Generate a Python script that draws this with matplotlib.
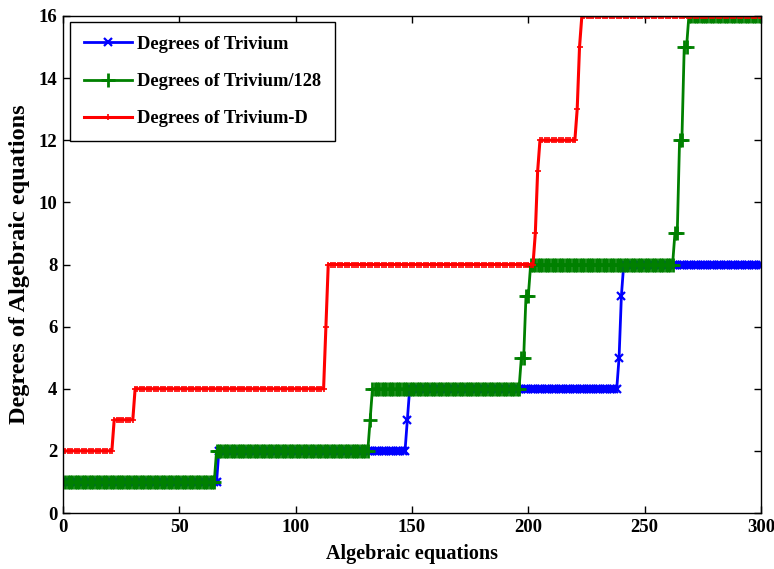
import numpy as np
import matplotlib
matplotlib.use("Agg")
import matplotlib.pyplot as plt

# Equation index (x) shared by all series
x_first, x_last = 1, 300

# Each series: degree levels and the last equation index of each level
trivium_levels = [1, 2, 3, 4, 5, 7, 8]
trivium_run_end = [66, 147, 148, 238, 239, 240, 300]

trivium128_levels = [1, 2, 3, 4, 5, 7, 8, 9, 12, 15, 16]
trivium128_run_end = [65, 131, 132, 196, 198, 200, 262, 264, 266, 268, 300]

triviumD_levels = [2, 3, 4, 6, 8, 9, 11, 12, 13, 15, 16]
triviumD_run_end = [21, 30, 112, 113, 202, 203, 204, 220, 221, 222, 300]

labels = ["Degrees of Trivium", "Degrees of Trivium/128", "Degrees of Trivium-D"]
x_ticks = [0, 50, 100, 150, 200, 250, 300]
y_ticks = [0, 2, 4, 6, 8, 10, 12, 14, 16]


def expand(levels, run_end):
    ends = np.asarray(run_end)
    starts = np.concatenate([[x_first], ends[:-1] + 1])
    counts = ends - starts + 1
    return np.repeat(levels, counts)


x = np.arange(x_first, x_last + 1)
y_triv = expand(trivium_levels, trivium_run_end)
y_t128 = expand(trivium128_levels, trivium128_run_end)
y_trivD = expand(triviumD_levels, triviumD_run_end)

plt.rcParams["font.family"] = ["Liberation Serif", "DejaVu Serif"]
plt.rcParams["font.weight"] = "bold"

fig = plt.figure(figsize=(7.74, 5.69), dpi=100)
ax = fig.add_axes([63 / 774, 1 - 513 / 569, 698 / 774, 497 / 569])

ax.plot(x, y_triv, color=(0, 0, 1), lw=2, marker="x", ms=5.5, mew=1.6,
        label=labels[0])
ax.plot(x, y_t128, color=(0, 0.5, 0), lw=2, marker="+", ms=9.5, mew=2,
        label=labels[1])
ax.plot(x, y_trivD, color=(1, 0, 0), lw=2.2, marker="+", ms=4, mew=1.2,
        label=labels[2])

ax.set_xlim(0, 300)
ax.set_ylim(0, 16)
ax.set_xticks(x_ticks)
ax.set_yticks(y_ticks)
ax.tick_params(direction="in", length=5, width=1, top=True, right=True,
               labelsize=13.5, pad=4)
for lab in ax.get_xticklabels() + ax.get_yticklabels():
    lab.set_fontweight("bold")
for s in ax.spines.values():
    s.set_linewidth(1)
    s.set_color("black")

ax.set_xlabel("Algebraic equations", fontsize=14.5, fontweight="bold",
              labelpad=6)
ax.set_ylabel("Degrees of Algebraic equations", fontsize=17.5,
              fontweight="bold", labelpad=6)

leg = ax.legend(loc="upper left", bbox_to_anchor=(0.01, 0.988),
                borderaxespad=0, handlelength=2.6,
                handletextpad=0.3, borderpad=0.75, labelspacing=1.1,
                fancybox=False, framealpha=1, edgecolor="black",
                numpoints=1, prop={"weight": "bold", "size": 13.3})
leg.get_frame().set_linewidth(1)

fig.savefig("out.png", dpi=100)
